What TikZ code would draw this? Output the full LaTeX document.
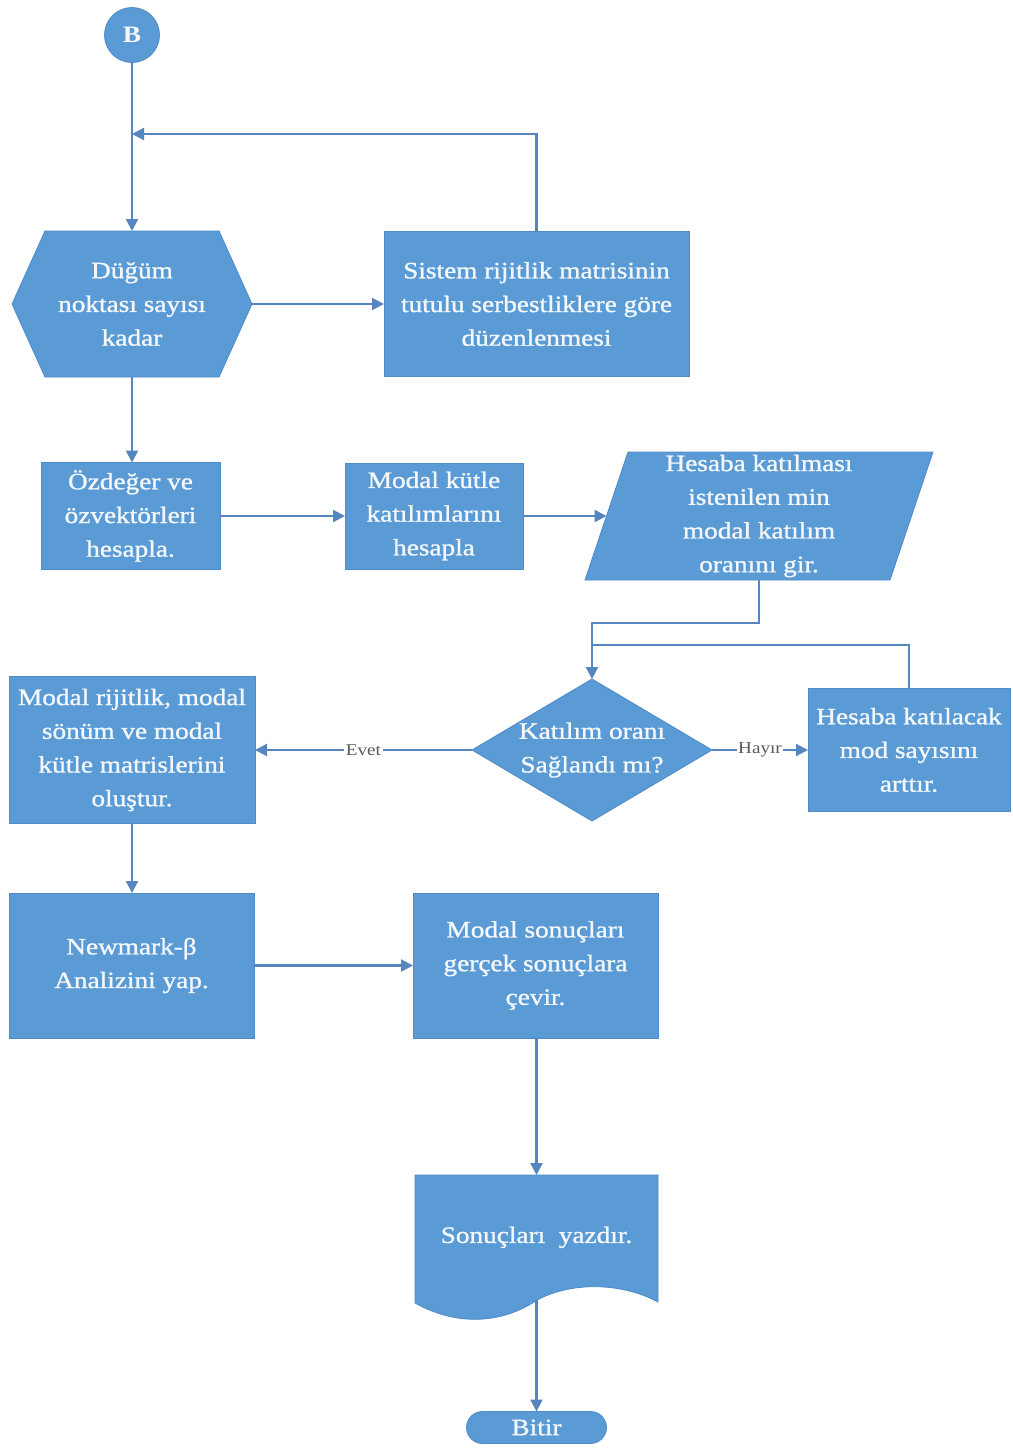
\documentclass[tikz,border=0pt]{standalone}
\usepackage{fontspec}
\setmainfont{Liberation Serif}[FakeStretch=1.16]
\newfontfamily\shapefont{Liberation Serif}[FakeStretch=1.16, FakeBold=1.1]
\usetikzlibrary{arrows.meta,backgrounds,calc}

\definecolor{shapeblue}{HTML}{5B9BD5}
\definecolor{shapeedge}{HTML}{4E8BC8}
\definecolor{flowline}{HTML}{5686C0}
\definecolor{labelgray}{HTML}{595959}
\definecolor{shapetext}{HTML}{F4F8FC}

\begin{document}
\begin{tikzpicture}[x=1pt,y=-1pt,
  every node/.style={inner sep=0pt, outer sep=0pt},
  txt/.style={text=shapetext, align=center, font={\shapefont\fontsize{23.5}{33.7}\selectfont}},
  box/.style={txt, rectangle, fill=shapeblue, draw=shapeedge, line width=0.8pt},
  frame/.style={txt, rectangle},
  shapefill/.style={fill=shapeblue, draw=shapeedge, line width=0.8pt},
  flow/.style={draw=flowline, line width=2.2pt, -{Triangle[length=12pt,width=12pt]}},
  link/.style={draw=flowline, line width=2.2pt},
  tag/.style={fill=white, text=labelgray, font={\fontsize{16.5}{18}\selectfont}, inner sep=1.5pt}
]
\useasboundingbox (0,0) rectangle (1012,1448);

% start connector
\node[circle, fill=shapeblue, draw=shapeedge, line width=0.8pt, minimum size=55pt,
      text=shapetext, font={\fontsize{23.5}{28}\selectfont\bfseries}] (B) at (132,35) {B};

% loop: one pass per node
\node[frame, minimum width=240pt, minimum height=146pt] (hex) at (132,304)
  {Düğüm\\noktası sayısı\\kadar};
\node[box, minimum width=305pt, minimum height=145pt] (sys) at (536.5,304)
  {Sistem rijitlik matrisinin\\tutulu serbestliklere göre\\düzenlenmesi};

% eigen analysis and modal participation
\node[box, minimum width=179pt, minimum height=107pt] (eig) at (130.5,516)
  {Özdeğer ve\\özvektörleri\\hesapla.};
\node[box, minimum width=178pt, minimum height=106pt] (mkat) at (434,516)
  {Modal kütle\\katılımlarını\\hesapla};
\node[frame, minimum width=305pt, minimum height=128pt] (para) at (759,516)
  {Hesaba katılması\\istenilen min\\modal katılım\\oranını gir.};

% participation check
\node[frame, minimum width=240pt, minimum height=142pt] (dia) at (592,750)
  {Katılım oranı\\Sağlandı mı?};
\node[box, minimum width=202pt, minimum height=123pt] (inc) at (909,750)
  {Hesaba katılacak\\mod sayısını\\arttır.};
\node[box, minimum width=246pt, minimum height=147pt] (modal) at (132,750)
  {Modal rijitlik, modal\\sönüm ve modal\\kütle matrislerini\\oluştur.};

% time integration and output
\node[box, minimum width=245pt, minimum height=145pt] (newm) at (131.5,965.5)
  {Newmark-β\\Analizini yap.};
\node[box, minimum width=245pt, minimum height=145pt] (conv) at (535.5,965.5)
  {Modal sonuçları\\gerçek sonuçlara\\çevir.};
\node[frame, minimum width=243pt, minimum height=125pt] (doc) at (536.5,1237.5)
  {\raisebox{5.5pt}{Sonuçları\ \ yazdır.}};
\node[box, rounded corners=16pt, minimum width=140pt, minimum height=32pt] (bitir) at (536.5,1427.5)
  {Bitir};

% outlines of the non-rectangular symbols
\begin{scope}[on background layer]
  \fill[white] (0,0) rectangle (1012,1448);
  \path[shapefill] (hex.west) -- ([xshift=33pt]hex.north west) -- ([xshift=-33pt]hex.north east)
    -- (hex.east) -- ([xshift=-33pt]hex.south east) -- ([xshift=33pt]hex.south west) -- cycle;
  \path[shapefill] ([xshift=21.5pt]para.north west) -- ([xshift=21.5pt]para.north east)
    -- ([xshift=-21.5pt]para.south east) -- ([xshift=-21.5pt]para.south west) -- cycle;
  \path[shapefill] (dia.north) -- (dia.east) -- (dia.south) -- (dia.west) -- cycle;
  \path[shapefill] (doc.north west) -- (doc.north east) -- (658,1302)
    .. controls (625,1284) and (575,1280) .. (537,1300)
    .. controls (505,1322) and (460,1328) .. (415,1303) -- cycle;
\end{scope}

% connectors
\coordinate (back) at (132,134);
\draw[flow] (B) -- (hex.north);
\draw[flow] (sys.north) |- (back);
\draw[flow] (hex.east) -- (sys.west);
\draw[flow] (hex.south) -- (eig.north -| hex.south);
\draw[flow] (eig.east) -- (mkat.west);
\draw[flow] (mkat.east) -- (para.west);
\coordinate (merge) at ($(dia.north)+(0,-34)$);
\draw[flow] (para.south) -- ++(0,43) -| (dia.north);
\draw[link] (inc.north) |- (merge);
\draw[flow] (dia.west) -- node[tag]{Evet} (modal.east);
\draw[flow] (dia.east) -- node[tag]{Hayır} (inc.west);
\draw[flow] (modal.south) -- (newm.north -| modal.south);
\draw[flow] (newm.east) -- (conv.west);
\draw[flow] (conv.south -| doc.north) -- (doc.north);
\draw[flow] (doc.south) -- (bitir.north);
\end{tikzpicture}
\end{document}
